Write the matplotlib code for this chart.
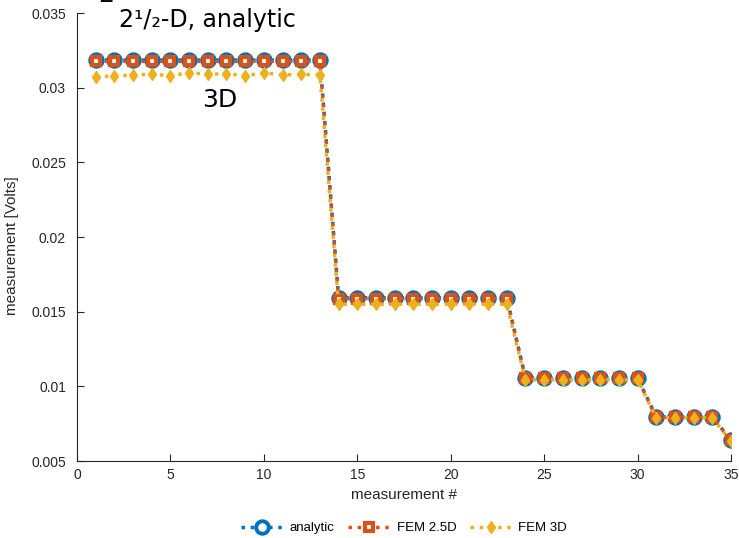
import matplotlib
matplotlib.use("Agg")
import matplotlib.pyplot as plt
from matplotlib.ticker import FormatStrFormatter

plt.rcParams['font.family'] = ['Liberation Sans', 'DejaVu Sans']

meas = list(range(1, 36))
analytic = [0.03185]*13 + [0.01594]*10 + [0.01056]*7 + [0.00795]*4 + [0.00641]
fem25 = [0.03176]*13 + [0.01588]*10 + [0.01053]*7 + [0.00793]*4 + [0.00639]
fem3d = [0.03074, 0.03078, 0.03085, 0.03090, 0.03080, 0.03100, 0.03090,
         0.03094, 0.03080, 0.03100, 0.03085, 0.03090, 0.03085] + \
        [0.01550]*10 + [0.01043]*7 + [0.00790]*4 + [0.00632]

xticks = [0, 5, 10, 15, 20, 25, 30, 35]
yticks = [0.005, 0.01, 0.015, 0.02, 0.025, 0.03, 0.035]

c_blue = '#0072BD'
c_orange = '#D95319'
c_yellow = '#EDB120'

fig = plt.figure(figsize=(7.39, 5.38), dpi=100)
ax = fig.add_axes([0.1042, 0.1431, 0.8850, 0.8327])

ax.plot(meas, analytic, linestyle=':', color=c_blue, lw=2.5, marker='o',
        markersize=9, mfc='white', mec=c_blue, mew=2.8, label='analytic')
ax.plot(meas, fem25, linestyle=':', color=c_orange, lw=2.5, marker='s',
        markersize=6.3, mfc='white', mec=c_orange, mew=3, label='FEM 2.5D')
ax.plot(meas, fem3d, linestyle=':', color=c_yellow, lw=2.5, marker='d',
        markersize=6.5, mfc=c_yellow, mec=c_yellow, mew=1, label='FEM 3D')

ax.set_xlim(0, 35)
ax.set_ylim(0.005, 0.035)
ax.set_xticks(xticks)
ax.set_yticks(yticks)
ax.yaxis.set_major_formatter(FormatStrFormatter('%g'))
ax.tick_params(direction='in', length=5, labelsize=10, colors='#262626', width=0.8)
ax.tick_params(axis='y', pad=8)
ax.tick_params(axis='x', pad=5)
for s in ['top', 'right']:
    ax.spines[s].set_visible(False)
for s in ['left', 'bottom']:
    ax.spines[s].set_color('#262626')
    ax.spines[s].set_linewidth(0.8)

ax.set_xlabel('measurement #', fontsize=11, color='#262626', labelpad=4)
ax.set_ylabel('measurement [Volts]', fontsize=11, color='#262626')
ax.yaxis.set_label_coords(-0.088, 0.48)

ax.text(6.96, 0.03455, '2\u00b9/\u2082-D, analytic', fontsize=17,
        ha='center', va='center', family=['DejaVu Sans'])
ax.text(7.65, 0.02917, '3D', fontsize=18, ha='center', va='center',
        family=['DejaVu Sans'])
fig.text(106/739, 1 - 2/538, '2', fontsize=18, ha='center', va='baseline',
         family=['DejaVu Sans'])

leg = fig.legend(loc='center', bbox_to_anchor=(404/739, 1 - 528/538), ncol=3,
                 frameon=False, fontsize=9.5, handlelength=3.2, columnspacing=1.0,
                 handletextpad=0.5, borderpad=0.1)

fig.savefig('out.png', dpi=100)
